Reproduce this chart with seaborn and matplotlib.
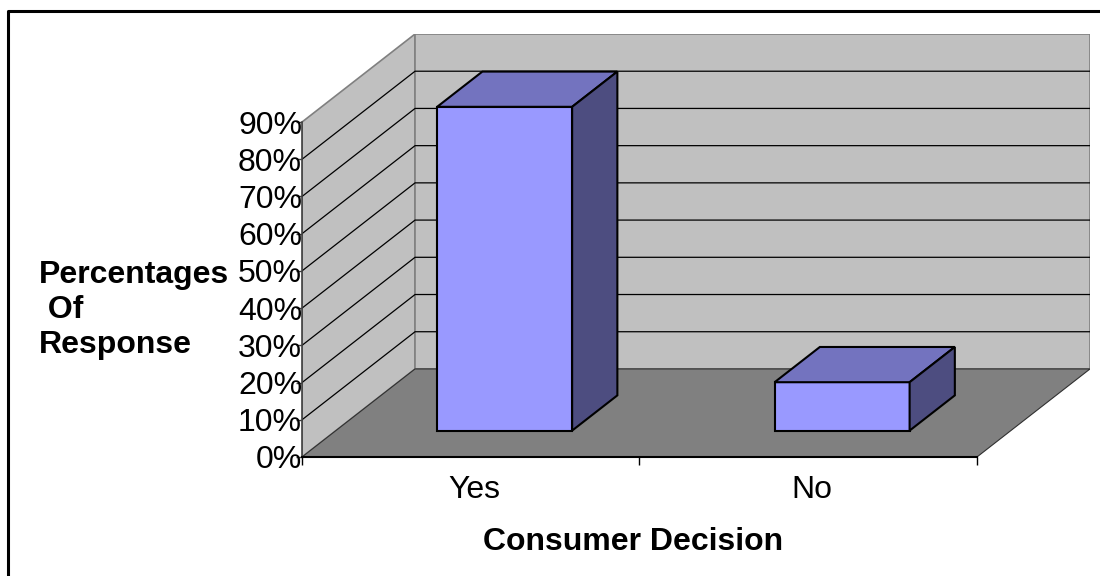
import pandas as pd
import seaborn as sns
import matplotlib.pyplot as plt
import matplotlib.transforms as mtransforms
from matplotlib.patches import Polygon
from matplotlib.lines import Line2D

categories = ["Yes", "No"]
responses = [87, 13]
y_ticks = [0, 10, 20, 30, 40, 50, 60, 70, 80, 90]

df = pd.DataFrame({"Consumer Decision": categories, "Response": responses})

sns.set_style("white")
plt.rcParams['font.family'] = ['Liberation Sans', 'DejaVu Sans']
plt.rcParams['font.size'] = 23
plt.rcParams['text.color'] = 'black'
plt.rcParams['axes.labelcolor'] = 'black'
plt.rcParams['xtick.color'] = 'black'
plt.rcParams['ytick.color'] = 'black'

fig = plt.figure(figsize=(11, 5.76), dpi=100)
ax = fig.add_axes([302 / 1100, 119 / 576, 788 / 1100, 423 / 576])

# depth of the fake 3d box (data units) and where the bars sit inside it
DX, DY = 0.335, 23.66
FRONT, DEPTH = 0.3, 0.4
TOP = y_ticks[-1]

x0, x1 = -0.5, len(categories) - 0.5
wall = '#c0c0c0'
edge = '#808080'

# walls + floor
ax.add_patch(Polygon([(x0, 0), (x0, TOP), (x0 + DX, TOP + DY), (x0 + DX, DY)],
                     closed=True, fc=wall, ec=edge, lw=1.2, zorder=0))
ax.add_patch(Polygon([(x0 + DX, DY), (x0 + DX, TOP + DY), (x1 + DX, TOP + DY), (x1 + DX, DY)],
                     closed=True, fc=wall, ec=edge, lw=1.2, zorder=0))
ax.add_patch(Polygon([(x0, 0), (x1, 0), (x1 + DX, DY), (x0 + DX, DY)],
                     closed=True, fc='#808080', ec='#303030', lw=0.8, zorder=1))

# gridlines on side + back wall
for v in y_ticks[1:-1]:
    ax.plot([x0, x0 + DX, x1 + DX], [v, v + DY, v + DY], color='black', lw=0.9, zorder=1)

sns.barplot(data=df, x="Consumer Decision", y="Response", color='#9999ff', saturation=1,
            width=0.4, edgecolor='black', linewidth=1.5, ax=ax, zorder=3)

# push bars into the box and add top / side faces
for bar in ax.containers[0]:
    w, h = bar.get_width(), bar.get_height()
    bx = bar.get_x() + FRONT * DX
    by = FRONT * DY
    bar.set_x(bx)
    bar.set_y(by)
    dx, dy = DEPTH * DX, DEPTH * DY
    ax.add_patch(Polygon([(bx, by + h), (bx + w, by + h), (bx + w + dx, by + h + dy), (bx + dx, by + h + dy)],
                         closed=True, fc='#7373bf', ec='black', lw=1.5, zorder=3))
    ax.add_patch(Polygon([(bx + w, by), (bx + w + dx, by + dy), (bx + w + dx, by + h + dy), (bx + w, by + h)],
                         closed=True, fc='#4d4d80', ec='black', lw=1.5, zorder=3))

ax.set_xlim(x0, x1 + DX)
ax.set_ylim(0, TOP + DY)

sns.despine(ax=ax)
ax.spines['left'].set_bounds(0, TOP)
ax.spines['bottom'].set_bounds(x0, x1)
ax.spines['left'].set_color('#404040')
ax.spines['left'].set_linewidth(1.2)
ax.spines['bottom'].set_color('black')
ax.spines['bottom'].set_linewidth(1.5)
for s in ['left', 'bottom']:
    ax.spines[s].set_zorder(4)

ax.set_yticks(y_ticks)
ax.set_yticklabels([f"{v}%" for v in y_ticks])
ax.tick_params(axis='y', left=True, length=4, width=1, pad=-4, color='#404040', labelcolor='black')
ax.set_xticks([0, 1])
ax.set_xticks([x0, 0.5, x1], minor=True)
ax.tick_params(axis='x', which='major', bottom=True, length=0, pad=13, labelcolor='black')
ax.tick_params(axis='x', which='minor', bottom=True, length=6, width=1, color='black')
# category labels sit a touch right of the slot centre
shift = mtransforms.ScaledTranslation(4 / 100, 0, fig.dpi_scale_trans)
for lbl in ax.get_xticklabels():
    lbl.set_transform(lbl.get_transform() + shift)

ax.set_ylabel("Percentages\n Of\nResponse", rotation=0, fontweight='bold', color='black',
              ha='left', va='center', multialignment='left')
ax.yaxis.set_label_coords(-0.334, 0.3475)
ax.set_xlabel("Consumer Decision", fontweight='bold', va='center', color='black')
ax.xaxis.set_label_coords(0.42, -0.201)

# chart area border (only top and left edges show in the crop)
fig.add_artist(Line2D([8 / 1100, 8 / 1100, 1], [0, 565 / 576, 565 / 576],
                      transform=fig.transFigure, color='black', lw=2.2))

fig.savefig('out.png', dpi=100)
